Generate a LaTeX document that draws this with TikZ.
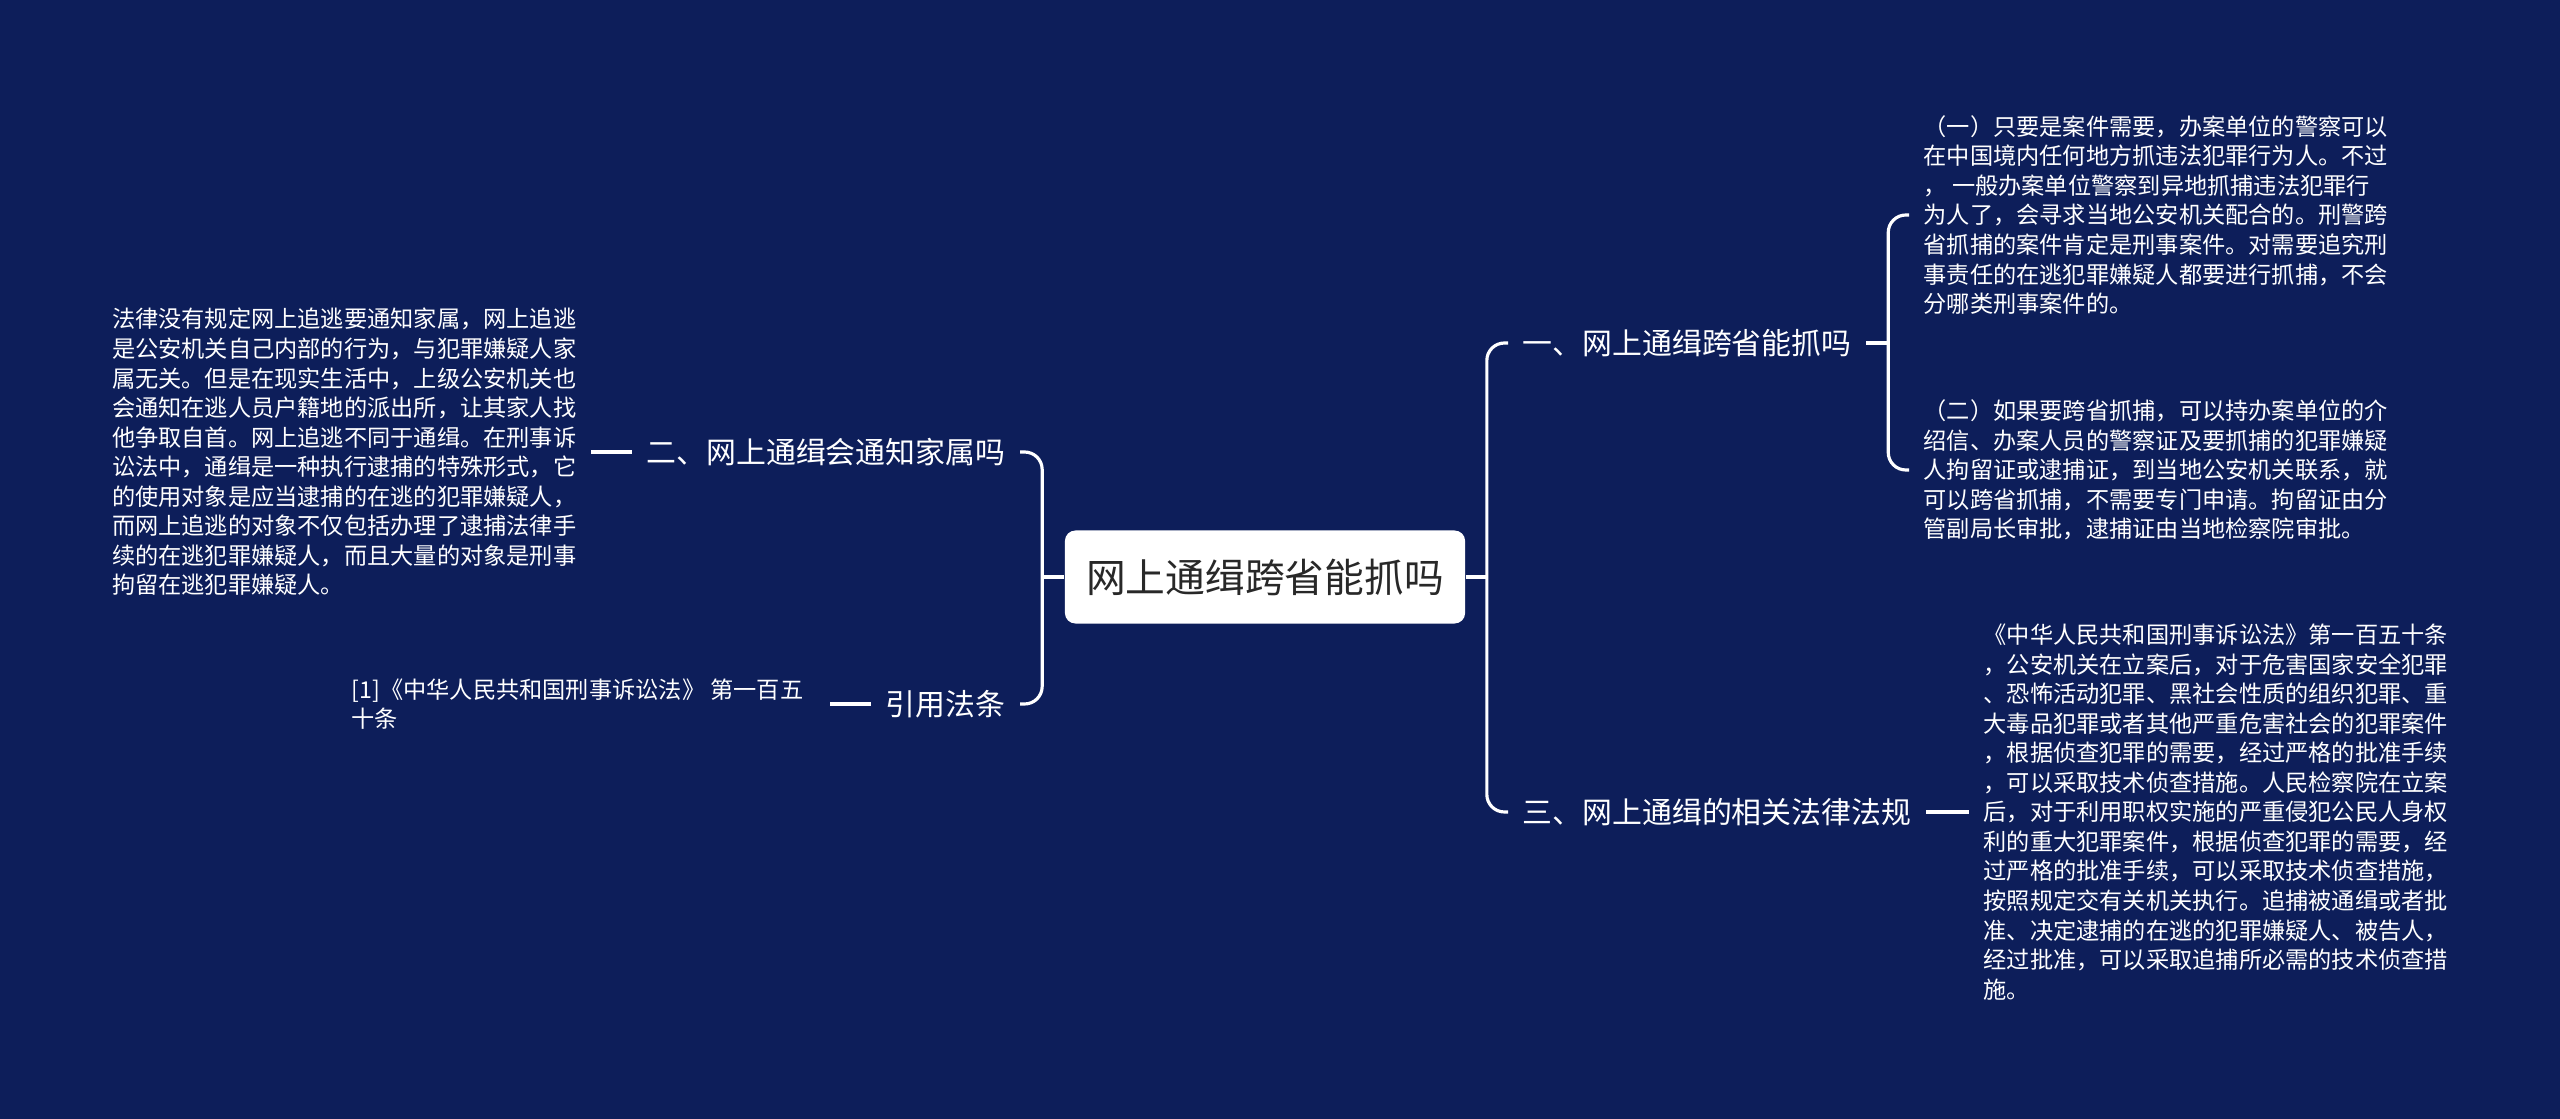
\documentclass[tikz,border=0pt]{standalone}
\usepackage{fontspec}
\newfontfamily\cjk{Noto Sans CJK SC}
\usetikzlibrary{calc}
\definecolor{bgnavy}{RGB}{13,30,90}
\definecolor{roottext}{RGB}{40,40,40}
\begin{document}
\begin{tikzpicture}[x=0.01cm, y=-0.01cm,
		link/.style={draw=white, line width=0.9pt, rounded corners=5pt},
		rootbox/.style={fill=white, rounded corners=3pt, minimum width=4cm, minimum height=0.93cm, inner sep=0pt, text=roottext, font={\cjk\fontsize{11.3}{13}\selectfont}},
		lvl/.style={text=white, inner xsep=0.14cm, inner ysep=2pt, font={\cjk\fontsize{8.5}{10}\selectfont}},
		leaf/.style={text=white, align=left, inner xsep=0.14cm, inner ysep=2pt, font={\cjk\fontsize{6.6}{8.4}\selectfont}}]
		% Background
		\fill[bgnavy] (0,0) rectangle (2560,1119);

		% Root
		\node[rootbox] (root) at (1265,577) {网上通缉跨省能抓吗};

		% Right side
		\node[lvl, anchor=west] (n1) at (1508,343) {一、网上通缉跨省能抓吗};
		\node[lvl, anchor=west] (n3) at (1508,812) {三、网上通缉的相关法律法规};
		\node[leaf, anchor=west] (d1) at (1909,215) {（一）只要是案件需要，办案单位的警察可以\\
			在中国境内任何地方抓违法犯罪行为人。不过\\
			， 一般办案单位警察到异地抓捕违法犯罪行\\
			为人了，会寻求当地公安机关配合的。刑警跨\\
			省抓捕的案件肯定是刑事案件。对需要追究刑\\
			事责任的在逃犯罪嫌疑人都要进行抓捕，不会\\
			分哪类刑事案件的。};
		\node[leaf, anchor=west] (d2) at (1909,470) {（二）如果要跨省抓捕，可以持办案单位的介\\
			绍信、办案人员的警察证及要抓捕的犯罪嫌疑\\
			人拘留证或逮捕证，到当地公安机关联系，就\\
			可以跨省抓捕，不需要专门申请。拘留证由分\\
			管副局长审批，逮捕证由当地检察院审批。};
		\node[leaf, anchor=west] (d3) at (1969,812) {《中华人民共和国刑事诉讼法》第一百五十条\\
			，公安机关在立案后，对于危害国家安全犯罪\\
			、恐怖活动犯罪、黑社会性质的组织犯罪、重\\
			大毒品犯罪或者其他严重危害社会的犯罪案件\\
			，根据侦查犯罪的需要，经过严格的批准手续\\
			，可以采取技术侦查措施。人民检察院在立案\\
			后，对于利用职权实施的严重侵犯公民人身权\\
			利的重大犯罪案件，根据侦查犯罪的需要，经\\
			过严格的批准手续，可以采取技术侦查措施，\\
			按照规定交有关机关执行。追捕被通缉或者批\\
			准、决定逮捕的在逃的犯罪嫌疑人、被告人，\\
			经过批准，可以采取追捕所必需的技术侦查措\\
			施。};

		% Left side
		\node[lvl, anchor=east] (n2) at (1020,452) {二、网上通缉会通知家属吗};
		\node[lvl, anchor=east] (n4) at (1020,704) {引用法条};
		\node[leaf, anchor=east] (d2l) at (591,452) {法律没有规定网上追逃要通知家属，网上追逃\\
			是公安机关自己内部的行为，与犯罪嫌疑人家\\
			属无关。但是在现实生活中，上级公安机关也\\
			会通知在逃人员户籍地的派出所，让其家人找\\
			他争取自首。网上追逃不同于通缉。在刑事诉\\
			讼法中，通缉是一种执行逮捕的特殊形式，它\\
			的使用对象是应当逮捕的在逃的犯罪嫌疑人，\\
			而网上追逃的对象不仅包括办理了逮捕法律手\\
			续的在逃犯罪嫌疑人，而且大量的对象是刑事\\
			拘留在逃犯罪嫌疑人。};
		\node[leaf, anchor=west] (d4) at (337,704) {[1]《中华人民共和国刑事诉讼法》 第一百五\\
			十条};

		% Connectors
		\coordinate (rj) at ($(root.east)+(21,0)$);
		\coordinate (lj) at ($(root.west)+(-22,0)$);
		\coordinate (sj) at ($(n1.east)+(22,0)$);
		\draw[link] (root.east) -- (rj);
		\draw[link] (n1.west) -| (rj) |- (n3.west);
		\draw[link] (n1.east) -- (sj);
		\draw[link] (d1.west) -| (sj) |- (d2.west);
		\draw[link] (n3.east) -- (d3.west);
		\draw[link] (root.west) -- (lj);
		\draw[link] (n2.east) -| (lj) |- (n4.east);
		\draw[link] (n2.west) -- (d2l.east);
		\draw[link] (n4.west) -- ([xshift=0.12cm]d4.east);
	\end{tikzpicture}
\end{document}
